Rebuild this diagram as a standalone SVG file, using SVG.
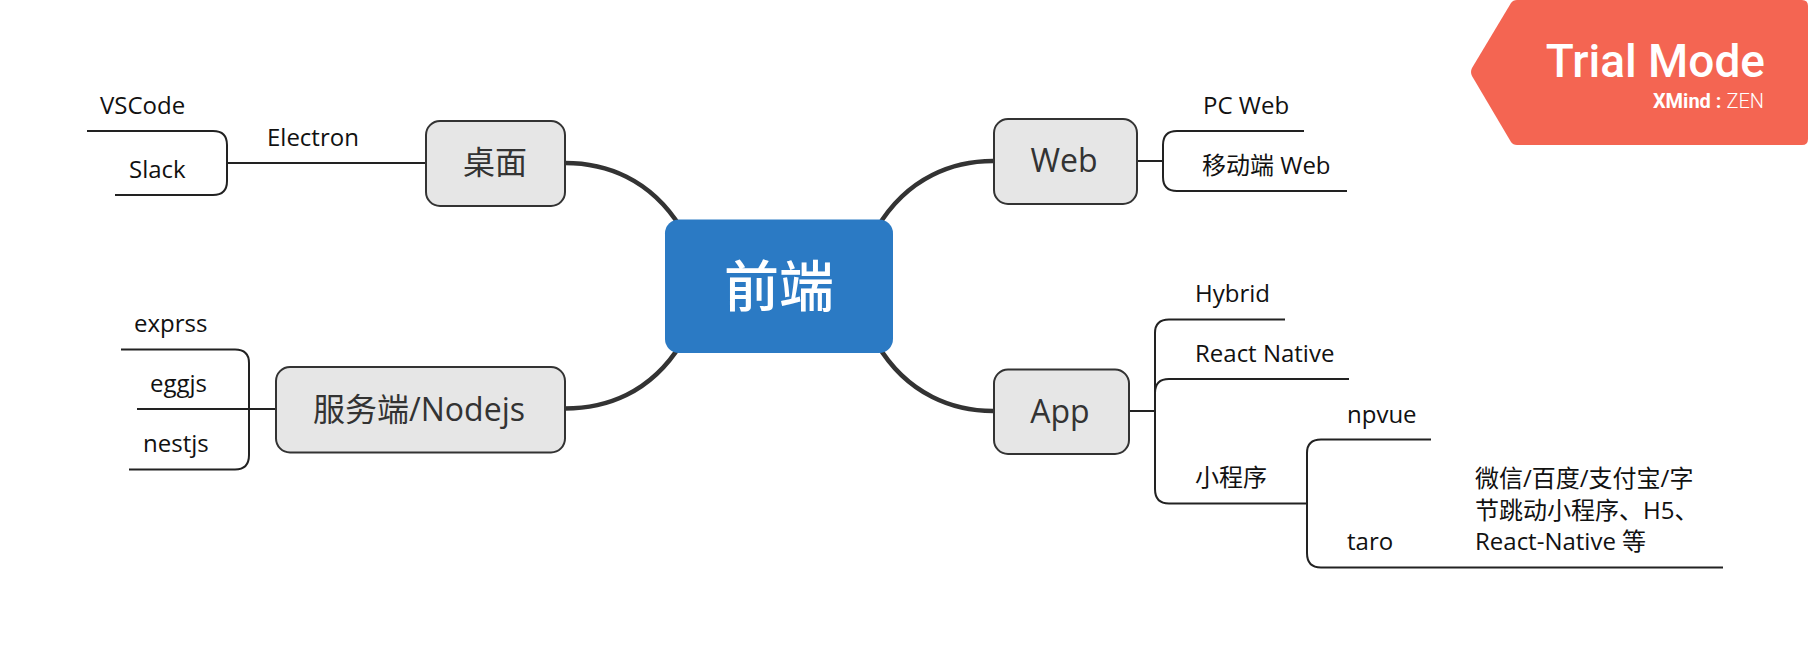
<svg xmlns="http://www.w3.org/2000/svg" width="1810" height="654" viewBox="0 0 1810 654">
<style>
text{font-family:"Open Sans","Noto Sans CJK SC",sans-serif}
.leaf{font-size:24px;fill:#111}
.topic{font-size:32px;fill:#333;text-anchor:middle}
.box{fill:#e6e6e6;stroke:#333;stroke-width:2}
.thick{fill:none;stroke:#333;stroke-width:4.5}
.thin{fill:none;stroke:#222;stroke-width:2}
</style>
<rect width="1810" height="654" fill="#fff"/>
<g id="connectors">
<path class="thick" d="M565 163C605 163 650 178 681 228"/>
<path class="thick" d="M565 408.500C605 408.500 650 394 681 344"/>
<path class="thick" d="M993 161C955 161 908 176 877 228"/>
<path class="thick" d="M993 411C955 411 908 396 877 344"/>
<path class="thin" d="M426 163H227M87 131H213Q227 131 227 145V181Q227 195 213 195H115"/>
<path class="thin" d="M275 409H137M121 349.500H235Q249 349.500 249 363V455Q249 469.500 235 469.500H129"/>
<path class="thin" d="M1137 161H1163M1304 131H1177Q1163 131 1163 145V177Q1163 191 1177 191H1347"/>
<path class="thin" d="M1129 411H1155M1285 319.500H1169Q1155 319.500 1155 333V489Q1155 503.500 1169 503.500H1307M1349 379H1169Q1155 379 1155 393"/>
<path class="thin" d="M1431 439.500H1321Q1307 439.500 1307 453V553Q1307 567.500 1321 567.500H1723"/>
</g>
<g id="central"><rect x="665" y="219.500" width="228" height="133.500" rx="14" fill="#2b7ac4"/><text x="779" y="306" font-size="55" font-weight="500" fill="#fff" text-anchor="middle">前端</text></g>
<g id="desktop"><rect class="box" x="426" y="121" width="139" height="85" rx="14"/><text class="topic" x="495" y="174">桌面</text></g>
<g id="server"><rect class="box" x="276" y="367" width="289" height="85.500" rx="14"/><text class="topic" x="419" y="420.500">服务端/Nodejs</text></g>
<g id="web"><rect class="box" x="994" y="119" width="143" height="85" rx="14"/><text class="topic" x="1064" y="172">Web</text></g>
<g id="app"><rect class="box" x="994" y="369.500" width="135" height="84.500" rx="14"/><text class="topic" x="1060" y="422.500">App</text></g>
<g id="vscode"><text class="leaf" x="100" y="114">VSCode</text></g>
<g id="slack"><text class="leaf" x="129" y="178">Slack</text></g>
<g id="electron"><text class="leaf" x="267" y="146">Electron</text></g>
<g id="exprss"><text class="leaf" x="134" y="332">exprss</text></g>
<g id="eggjs"><text class="leaf" x="150" y="392">eggjs</text></g>
<g id="nestjs"><text class="leaf" x="143" y="452">nestjs</text></g>
<g id="pcweb"><text class="leaf" x="1203" y="114">PC Web</text></g>
<g id="mobileweb"><text class="leaf" x="1202" y="174">移动端 Web</text></g>
<g id="hybrid"><text class="leaf" x="1195" y="302">Hybrid</text></g>
<g id="rn"><text class="leaf" x="1195" y="362">React Native</text></g>
<g id="miniprogram"><text class="leaf" x="1195" y="486">小程序</text></g>
<g id="npvue"><text class="leaf" x="1347" y="422.500">npvue</text></g>
<g id="taro"><text class="leaf" x="1347" y="550">taro</text></g>
<g id="taro-note"><text class="leaf" x="1475" y="487">微信/百度/支付宝/字</text><text class="leaf" x="1475" y="519">节跳动小程序、H5、</text><text class="leaf" x="1475" y="550">React-Native 等</text></g>
<g id="trial"><path d="M1517 0H1802Q1808 0 1808 6V139Q1808 145 1802 145H1517Q1513 145 1511 142L1472 76Q1470 72 1472 68L1511 3Q1513 0 1517 0Z" fill="#f46552"/>
<text x="1765" y="77" font-size="46" font-weight="500" fill="#fff" text-anchor="end" style="font-family:Roboto,sans-serif">Trial Mode</text>
<text x="1764" y="108" font-size="20" fill="#fff" text-anchor="end" style="font-family:Roboto,sans-serif"><tspan font-weight="700">XMind</tspan><tspan font-weight="700"> : </tspan><tspan font-weight="300">ZEN</tspan></text></g>
</svg>
